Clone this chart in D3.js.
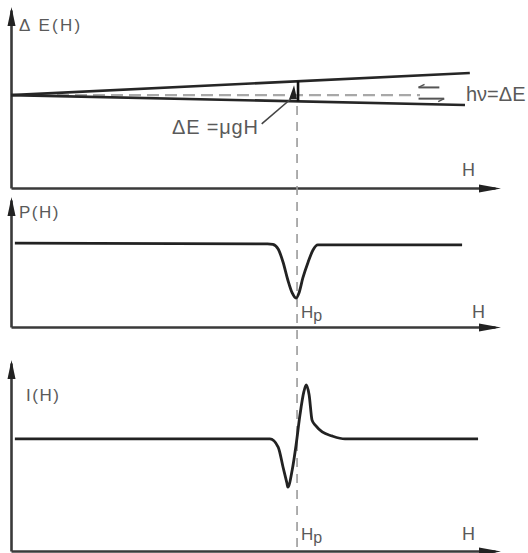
<!DOCTYPE html>
<html><head><meta charset="utf-8">
<script src="https://cdn.jsdelivr.net/npm/d3@7"></script>
<style>
html,body{margin:0;padding:0;background:#fff;}
svg{display:block;}
text{font-family:"Liberation Sans",Arial,sans-serif;fill:#5a5a5a;}
</style></head>
<body>
<script>
// ---- data ----
const Hdomain = [0, 100];
const Hp = 59.1;
// Panel 1: energy levels vs H
const upperH = [0, 94.8], upperE = [52.2, 64.6];
const lowerH = [0, 93.8], lowerE = [52.2, 46.6];
const dashH = [9.5, 84.5], dashE = [52.2, 52.2];
const leaderH = [51.8, 57.8], leaderE = [36.0, 50.0];
// Panel 2: P(H) absorption dip
const pH = [0.8, 53.0, 54.1, 55.2, 56.2, 57.2, 58.1, 58.9, 59.5, 60.3, 61.4, 62.4, 63.4, 93.2];
const pV = [66.0, 65.4, 65.0, 61.4, 51.2, 37.0, 26.8, 22.8, 26.8, 38.6, 51.2, 60.6, 64.6, 64.6];
// Panel 3: I(H) derivative signal
const iH = [0.8, 53.5, 55.2, 56.2, 57.0, 57.2, 58.1, 58.9, 59.7, 60.5, 61.0, 61.6, 62.2, 63.0, 64.3, 66.3, 69.0, 96.5];
const iV = [59.6, 59.6, 55.3, 44.7, 36.2, 34.0, 43.1, 56.4, 72.3, 84.6, 88.3, 83.0, 69.6, 66.5, 63.3, 61.2, 59.6, 59.6];

const labels = {e: "Δ E(H)", p: "P(H)", i: "I(H)", h: "H", hv: "hν=ΔE", de: "ΔE =μgH"};

// ---- layout ----
const W = 528, Hh = 553;
const svg = d3.select("body").append("svg").attr("width", W).attr("height", Hh);
const x = d3.scaleLinear().domain(Hdomain).range([11, 495]);
const yE = d3.scaleLinear().domain([0, 100]).range([188, 10]);
const yP = d3.scaleLinear().domain([0, 100]).range([327, 200]);
const yI = d3.scaleLinear().domain([0, 100]).range([551, 363]);

const axisColor = "#3a3a3a";
function panel(y, ylabel, lx, ly, hx, hy, ls) {
  const g = svg.append("g");
  const xa = g.append("g").attr("transform", `translate(0,${y.range()[0]})`)
    .call(d3.axisBottom(x).ticks(0).tickSizeOuter(0));
  xa.select(".domain").attr("stroke", axisColor).attr("stroke-width", 2.6);
  const ya = g.append("g").attr("transform", `translate(${x.range()[0]},0)`)
    .call(d3.axisLeft(y).ticks(0).tickSizeOuter(0));
  ya.select(".domain").attr("stroke", axisColor).attr("stroke-width", 2.6);
  const x1 = x.range()[1], y0 = y.range()[0], x0 = x.range()[0], y1 = y.range()[1];
  g.append("path").attr("d", `M${x1+6},${y0+0.5} L${x1-16},${y0-3.5} L${x1-16},${y0+4.5} Z`).attr("fill", "#222");
  g.append("path").attr("d", `M${x0+0.5},${y1-3} L${x0-3.5},${y1+16} L${x0+4.5},${y1+16} Z`).attr("fill", "#222");
  g.append("text").attr("x", lx).attr("y", ly).attr("font-size", 17).attr("letter-spacing", ls).text(ylabel);
  g.append("text").attr("x", hx).attr("y", hy).attr("font-size", 18).text(labels.h);
  return g;
}
panel(yE, labels.e, 19, 31, 462, 176, 2.2);
panel(yP, labels.p, 19, 218, 472, 318, 1.5);
panel(yI, labels.i, 26, 401, 462, 540, 1.5);

// vertical dashed line at Hp
svg.append("line").attr("x1", x(Hp)).attr("x2", x(Hp)).attr("y1", yE(46)).attr("y2", 553)
  .attr("stroke", "#9a9a9a").attr("stroke-width", 1.6).attr("stroke-dasharray", "9,7");

// Panel 1 lines
const lineE = d3.line().x(d => x(d[0])).y(d => yE(d[1]));
svg.append("path").attr("d", lineE(d3.zip(dashH, dashE))).attr("fill", "none")
  .attr("stroke", "#a8a8a8").attr("stroke-width", 2.2).attr("stroke-dasharray", "12,6");
svg.append("path").attr("d", lineE(d3.zip(upperH, upperE))).attr("fill", "none")
  .attr("stroke", "#262626").attr("stroke-width", 2.6);
svg.append("path").attr("d", lineE(d3.zip(lowerH, lowerE))).attr("fill", "none")
  .attr("stroke", "#262626").attr("stroke-width", 2.6);
// transition marker at Hp
const uAt = d3.scaleLinear().domain(upperH).range(upperE)(Hp);
const lAt = d3.scaleLinear().domain(lowerH).range(lowerE)(Hp);
svg.append("line").attr("x1", x(Hp)+1).attr("x2", x(Hp)+1).attr("y1", yE(uAt)).attr("y2", yE(lAt))
  .attr("stroke", "#111").attr("stroke-width", 2.6);
svg.append("path").attr("d", `M${x(Hp)-3},${yE(uAt)+4} L${x(Hp)-8},${yE(lAt)-2} L${x(Hp)},${yE(lAt)-2} Z`).attr("fill", "#222");
// leader line + label
svg.append("path").attr("d", lineE(d3.zip(leaderH, leaderE))).attr("fill", "none")
  .attr("stroke", "#444").attr("stroke-width", 1.6);
svg.append("text").attr("x", 172).attr("y", 134).attr("font-size", 20).attr("letter-spacing", 0.8).text(labels.de);
// photon arrows
svg.append("path").attr("d", `M${x(84.2)},${yE(56.5)} H${x(88.5)}`).attr("stroke", "#555").attr("stroke-width", 2);
svg.append("path").attr("d", `M${x(84.2)},${yE(56.5)} l6,-3`).attr("stroke", "#555").attr("stroke-width", 1.5).attr("fill","none");
svg.append("path").attr("d", `M${x(84.2)},${yE(50.2)} H${x(89.5)}`).attr("stroke", "#555").attr("stroke-width", 2);
svg.append("path").attr("d", `M${x(89.5)},${yE(50.2)} l-6,3`).attr("stroke", "#555").attr("stroke-width", 1.5).attr("fill","none");
svg.append("text").attr("x", 466).attr("y", 101).attr("font-size", 20).text(labels.hv);

// Panel 2 curve
svg.append("path").attr("d", d3.line().x(d => x(d[0])).y(d => yP(d[1])).curve(d3.curveMonotoneX)(d3.zip(pH, pV)))
  .attr("fill", "none").attr("stroke", "#222").attr("stroke-width", 2.8);
// Panel 3 curve
svg.append("path").attr("d", d3.line().x(d => x(d[0])).y(d => yI(d[1])).curve(d3.curveMonotoneX)(d3.zip(iH, iV)))
  .attr("fill", "none").attr("stroke", "#222").attr("stroke-width", 2.8);

// Hp labels
function hpLabel(px, py) {
  const t = svg.append("text").attr("x", px).attr("y", py).attr("font-size", 17);
  t.append("tspan").text("H");
  t.append("tspan").attr("font-size", 16).attr("dy", 3).text("p");
}
hpLabel(x(Hp)+4, 318);
hpLabel(x(Hp)+4, 540);
</script>
</body></html>
